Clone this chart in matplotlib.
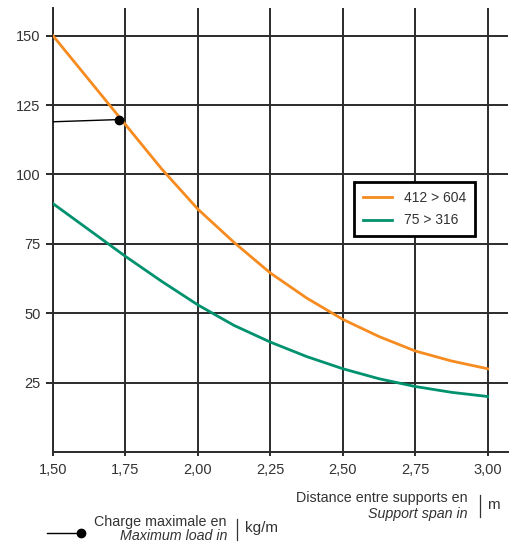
import matplotlib
matplotlib.use("Agg")
import matplotlib.pyplot as plt
from matplotlib.lines import Line2D

plt.rcParams["font.family"] = ["Liberation Sans", "DejaVu Sans"]

# data
span = [1.50, 1.625, 1.75, 1.875, 2.00, 2.125, 2.25, 2.375, 2.50, 2.625, 2.75, 2.875, 3.00]
load_412_604 = [150, 134, 118, 102, 87.5, 75.5, 64.5, 55.5, 47.8, 41.6, 36.4, 32.8, 30]
load_75_316 = [89.5, 80, 70.5, 61.5, 53, 45.6, 39.6, 34.4, 30, 26.4, 23.6, 21.5, 20]
x_ticks = [1.50, 1.75, 2.00, 2.25, 2.50, 2.75, 3.00]
x_labels = ["1,50", "1,75", "2,00", "2,25", "2,50", "2,75", "3,00"]
y_ticks = [25, 50, 75, 100, 125, 150]
marker_x = [1.50, 1.728]
marker_y = [119, 119.8]

orange = "#F68B1F"
green = "#00926E"
grid_col = "#2b2b2b"
txt_col = "#333333"

fig = plt.figure(figsize=(5.11, 5.43), dpi=100)
ax = fig.add_axes([53 / 511, 91 / 543, 455 / 511, 444 / 543])

ax.set_xlim(1.5, 3.07)
ax.set_ylim(0, 160)

# grid
for xv in x_ticks:
    ax.axvline(xv, color=grid_col, lw=1.4, zorder=1)
for yv in y_ticks:
    ax.axhline(yv, color=grid_col, lw=1.4, zorder=1)

ax.plot(span, load_412_604, color=orange, lw=2.0, zorder=3, label="412 > 604")
ax.plot(span, load_75_316, color=green, lw=2.0, zorder=3, label="75 > 316")

# example reading
ax.plot(marker_x, marker_y, color="black", lw=1.0, zorder=4)
ax.plot(marker_x[-1], marker_y[-1], "o", color="black", ms=6, zorder=5)

for s in ["top", "right"]:
    ax.spines[s].set_visible(False)
ax.spines["left"].set_color(grid_col)
ax.spines["bottom"].set_color(grid_col)
ax.spines["left"].set_linewidth(1.4)
ax.spines["bottom"].set_linewidth(1.4)

ax.set_xticks(x_ticks)
ax.set_xticklabels(x_labels, fontsize=10.5, color=txt_col)
ax.set_yticks(y_ticks)
ax.set_yticklabels([str(v) for v in y_ticks], fontsize=10.5, color=txt_col)
ax.tick_params(axis="x", length=3, width=1.4, color=grid_col, pad=5)
ax.tick_params(axis="y", length=5, width=1.4, color=grid_col, pad=4)

leg = ax.legend(loc="upper left", bbox_to_anchor=((354 - 53) / 455, (452 - 182) / 444),
                frameon=True, fancybox=False, fontsize=10, handlelength=2.1,
                borderpad=0.65, labelspacing=0.6, handletextpad=0.85, borderaxespad=0)
leg.get_frame().set_edgecolor("black")
leg.get_frame().set_linewidth(2)
leg.get_frame().set_alpha(1)
for t in leg.get_texts():
    t.set_color(txt_col)

# axis captions
fig.text(468 / 511, 1 - 498 / 543, "Distance entre supports en", ha="right", va="center",
         fontsize=10.3, color=txt_col)
fig.text(468 / 511, 1 - 514 / 543, "Support span in", ha="right", va="center",
         fontsize=10.3, color=txt_col, style="italic")
fig.add_artist(Line2D([480 / 511, 480 / 511], [1 - 495 / 543, 1 - 517 / 543],
                      color=txt_col, lw=0.9))
fig.text(487 / 511, 1 - 505 / 543, "m", ha="left", va="center", fontsize=11, color=txt_col)

fig.text(227 / 511, 1 - 522 / 543, "Charge maximale en", ha="right", va="center",
         fontsize=10.3, color=txt_col)
fig.text(227 / 511, 1 - 536 / 543, "Maximum load in", ha="right", va="center",
         fontsize=10.3, color=txt_col, style="italic")
fig.add_artist(Line2D([237 / 511, 237 / 511], [1 - 519 / 543, 1 - 540 / 543],
                      color=txt_col, lw=0.9))
fig.text(245 / 511, 1 - 528 / 543, "kg/m", ha="left", va="center", fontsize=11, color=txt_col)
fig.add_artist(Line2D([47 / 511, 81 / 511], [1 - 533 / 543, 1 - 533 / 543],
                      color="black", lw=1.0))
fig.add_artist(Line2D([81 / 511], [1 - 533 / 543], marker="o", color="black", ms=6))

fig.savefig("out.png", dpi=100)
